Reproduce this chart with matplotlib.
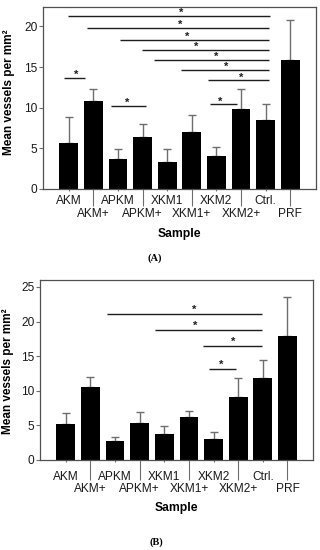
import matplotlib
matplotlib.use("Agg")
import matplotlib.pyplot as plt
import numpy as np

plt.rcParams["font.family"] = ["Liberation Sans", "DejaVu Sans"]

samples = ["AKM", "AKM+", "APKM", "APKM+", "XKM1", "XKM1+", "XKM2", "XKM2+", "Ctrl.", "PRF"]

# panel A
mean_a = [5.7, 10.8, 3.7, 6.4, 3.35, 7.05, 4.05, 9.8, 8.45, 15.85]
sd_a = [3.1, 1.55, 1.15, 1.55, 1.55, 2.05, 1.05, 2.55, 2.05, 4.95]
# (start, end, height, star x)
sig_a = [
    (-0.04, 8.2, 21.3, 4.55),
    (0.72, 8.14, 19.85, 4.51),
    (2.07, 8.14, 18.35, 4.83),
    (2.96, 8.14, 17.1, 5.16),
    (3.46, 8.14, 15.85, 5.98),
    (4.58, 8.14, 14.65, 6.41),
    (5.66, 8.14, 13.35, 6.99),
    (5.73, 6.82, 10.4, 6.17),
    (-0.2, 0.65, 13.65, 0.28),
    (1.71, 3.12, 10.25, 2.39),
]

# panel B
mean_b = [5.15, 10.5, 2.75, 5.4, 3.8, 6.15, 3.05, 9.15, 11.85, 17.9]
sd_b = [1.7, 1.55, 0.55, 1.55, 1.1, 0.95, 1.0, 2.65, 2.55, 5.65]
sig_b = [
    (1.69, 7.97, 21.07, 5.22),
    (3.63, 7.97, 18.76, 5.27),
    (5.55, 7.97, 16.45, 6.79),
    (5.8, 6.91, 13.18, 6.31),
]

PX = 0.72  # points per pixel at dpi 100
GREY = "#6e6e6e"


def draw_panel(ax, means, sds, sigs, ymax, yticks, row1, row2, sample_off, long_tick, star_off):
    x = np.arange(len(samples))
    ax.errorbar(x, means, yerr=[np.zeros(len(sds)), sds], fmt="none", ecolor=GREY,
                elinewidth=1, capsize=3, capthick=1, zorder=1)
    ax.bar(x, means, width=0.76, color="black", zorder=2)
    ax.set_xlim(-1.05, 10.05)
    ax.set_ylim(0, ymax)
    ax.set_yticks(yticks)
    ax.tick_params(axis="y", direction="out", length=3, width=0.8, color=GREY,
                   labelsize=8.6, pad=1, labelcolor="#1a1a1a")
    for spine in ax.spines.values():
        spine.set_color("#505050")
        spine.set_linewidth(0.9)

    # staggered category labels: short ticks on the first row, long on the second
    ax.set_xticks(x[1::2])
    ax.set_xticks(x[0::2], minor=True)
    ax.tick_params(axis="x", which="major", direction="out", length=long_tick * PX,
                   width=0.8, color=GREY, labelbottom=False)
    ax.tick_params(axis="x", which="minor", direction="out", length=2 * PX,
                   width=0.8, color=GREY, labelbottom=False)
    for i, name in enumerate(samples):
        off = row1 if i % 2 == 0 else row2
        ax.annotate(name, xy=(i, 0), xycoords=("data", "axes fraction"),
                    xytext=(0, -off * PX), textcoords="offset points",
                    ha="center", va="center", fontsize=8.6, color="#1a1a1a")
    ax.annotate("Sample", xy=(0.5, 0), xycoords="axes fraction",
                xytext=(0, -sample_off * PX), textcoords="offset points",
                ha="center", va="center", fontsize=8.7, fontweight="bold")

    for x0, x1, h, sx in sigs:
        ax.plot([x0, x1], [h, h], color="#1e1e1e", lw=1.0, solid_capstyle="butt", zorder=3)
        ax.annotate("*", xy=(sx, h), xytext=(0, star_off * PX), textcoords="offset points",
                    ha="center", va="baseline", fontsize=8, fontweight="bold", color="#1e1e1e")


fig = plt.figure(figsize=(3.2, 5.5), dpi=100)
ax_a = fig.add_axes([43 / 320, 1 - 188.8 / 550, 273 / 320, 181.8 / 550])
ax_b = fig.add_axes([40 / 320, 1 - 460 / 550, 273.3 / 320, 180 / 550])

draw_panel(ax_a, mean_a, sd_a, sig_a, 22.4, [0, 5, 10, 15, 20], 11.7, 25, 45, 17, 0)
draw_panel(ax_b, mean_b, sd_b, sig_b, 26, [0, 5, 10, 15, 20, 25], 17.3, 29.3, 47.7, 20, 1)

fig.text(9.3 / 320, 1 - 92.5 / 550, "Mean vessels per mm²", rotation=90,
         ha="center", va="center", fontsize=8.5, fontweight="bold")
fig.text(8 / 320, 1 - 371.5 / 550, "Mean vessels per mm²", rotation=90,
         ha="center", va="center", fontsize=8.5, fontweight="bold")

serif = ["Liberation Serif", "DejaVu Serif"]
fig.text(155 / 320, 1 - 258 / 550, "(A)", ha="center", va="center",
         fontsize=7.5, fontweight="bold", family=serif)
fig.text(156.7 / 320, 1 - 541.7 / 550, "(B)", ha="center", va="center",
         fontsize=7.5, fontweight="bold", family=serif)

fig.savefig("out.png", dpi=100)
